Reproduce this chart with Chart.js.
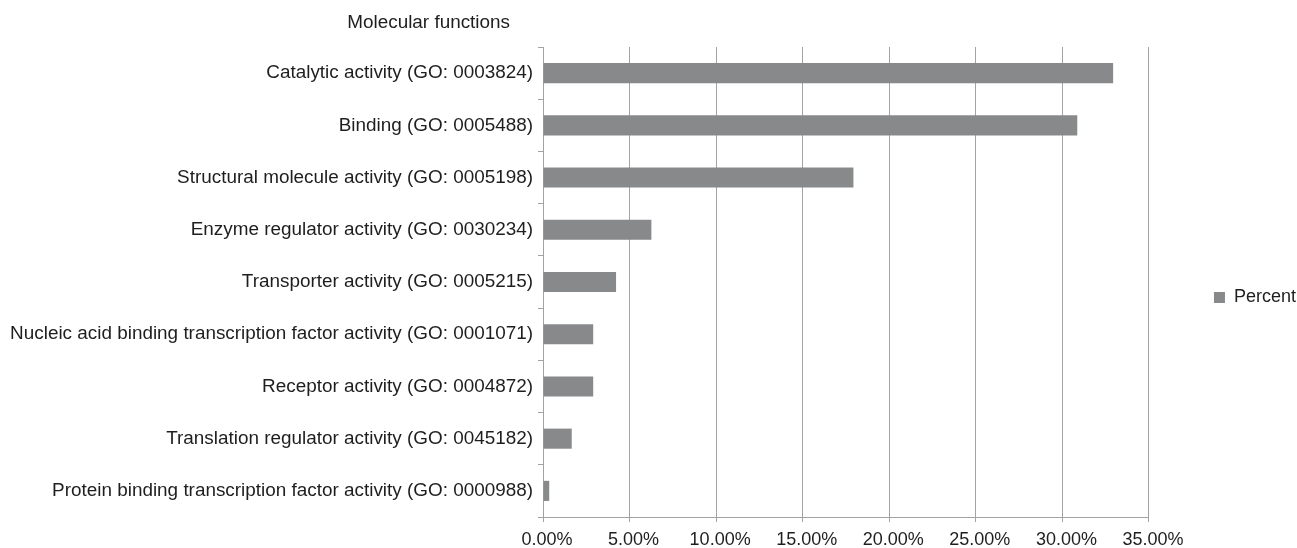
<!DOCTYPE html>
<html>
<head>
<meta charset="utf-8">
<script src="https://cdn.jsdelivr.net/npm/chart.js@4.4.1/dist/chart.umd.min.js"></script>
<style>
    html, body { margin: 0; padding: 0; background: #fff; }
    #wrap { width: 1297px; height: 548px; position: relative; }
</style>
</head>
<body>
<div id="wrap"><canvas id="gochart"></canvas></div>
<script>
// GO molecular function categories and their share of annotated proteins
const categories = [
    'Catalytic activity (GO: 0003824)',
    'Binding (GO: 0005488)',
    'Structural molecule activity (GO: 0005198)',
    'Enzyme regulator activity (GO: 0030234)',
    'Transporter activity (GO: 0005215)',
    'Nucleic acid binding transcription factor activity (GO: 0001071)',
    'Receptor activity (GO: 0004872)',
    'Translation regulator activity (GO: 0045182)',
    'Protein binding transcription factor activity (GO: 0000988)'
];
const percentValues = [32.93, 30.86, 17.93, 6.26, 4.22, 2.90, 2.90, 1.66, 0.36];
const seriesName = 'Percent';
const chartTitle = 'Molecular functions';
const xTicks = [0, 5, 10, 15, 20, 25, 30, 35];

const FONT = "'Liberation Sans', Arial, Helvetica, sans-serif";
const TEXT = '#1e1e1e';
const GRID = '#a3a3a3';
const BAR = '#88898b';

// title sits above the category labels, right-aligned near the axis
const titlePlugin = {
    id: 'sideTitle',
    afterDraw(chart) {
        const ctx = chart.ctx;
        ctx.save();
        ctx.font = '18.9px ' + FONT;
        ctx.fillStyle = TEXT;
        ctx.textAlign = 'right';
        ctx.textBaseline = 'middle';
        ctx.fillText(chartTitle, chart.chartArea.left - 33, 23);
        ctx.restore();
    }
};

const ctx = document.getElementById('gochart').getContext('2d');
new Chart(ctx, {
    type: 'bar',
    data: {
        labels: categories,
        datasets: [{
            label: seriesName,
            data: percentValues,
            backgroundColor: BAR,
            borderWidth: 0,
            barPercentage: 0.385,
            categoryPercentage: 1
        }]
    },
    options: {
        indexAxis: 'y',
        responsive: true,
        maintainAspectRatio: false,
        animation: false,
        layout: {
            padding: { top: 47, left: 0, right: -9, bottom: 0 }
        },
        plugins: {
            legend: {
                position: 'right',
                labels: {
                    boxWidth: 11,
                    boxHeight: 11,
                    padding: 65,
                    color: TEXT,
                    font: { family: FONT, size: 18 }
                }
            },
            tooltip: { enabled: false }
        },
        scales: {
            x: {
                min: 0,
                max: 35,
                afterBuildTicks: function(scale) {
                    scale.ticks = xTicks.map(v => ({ value: v }));
                },
                afterFit: function(scale) { scale.height = 31; },
                grid: {
                    color: GRID,
                    lineWidth: 1,
                    tickLength: 5
                },
                border: { color: GRID, width: 1 },
                ticks: {
                    padding: 7,
                    labelOffset: 4,
                    color: TEXT,
                    font: { family: FONT, size: 18 },
                    callback: v => v.toFixed(2) + '%'
                }
            },
            y: {
                afterFit: function(scale) { scale.width = 543; },
                grid: {
                    drawOnChartArea: false,
                    color: GRID,
                    tickLength: 5,
                    offset: true
                },
                border: { color: GRID, width: 1 },
                ticks: {
                    padding: 5,
                    color: TEXT,
                    autoSkip: false,
                    font: { family: FONT, size: 18.9 }
                }
            }
        }
    },
    plugins: [titlePlugin]
});
</script>
</body>
</html>
